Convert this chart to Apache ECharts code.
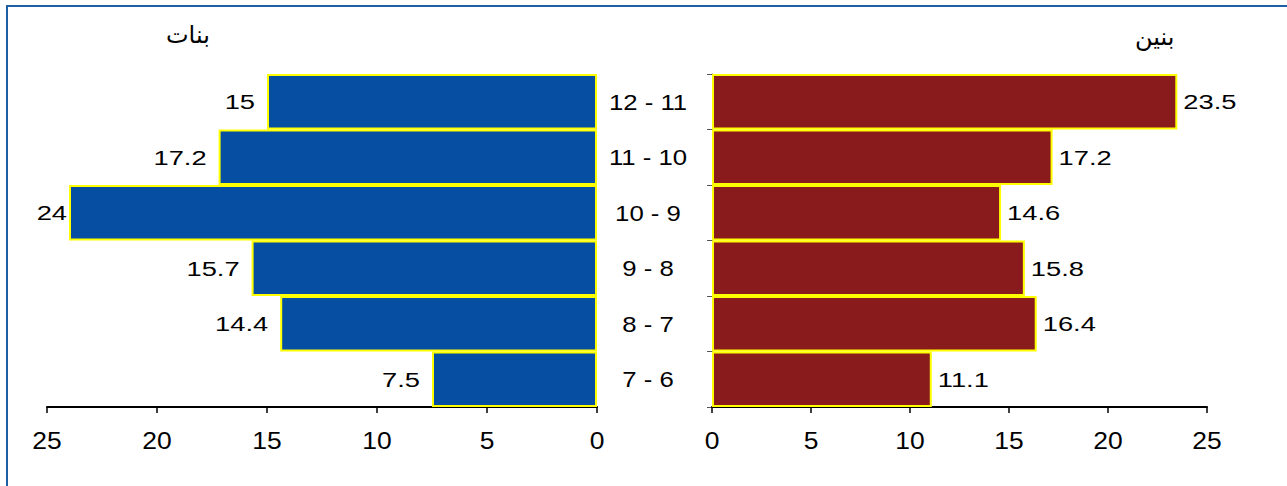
<!DOCTYPE html>
<html>
<head>
<meta charset="utf-8">
<style>html,body{margin:0;padding:0;background:#fff;}#c{width:1287px;height:486px;}</style>
<script src="https://cdn.jsdelivr.net/npm/echarts@6/dist/echarts.min.js"></script>
</head>
<body>
<div id="c"></div>
<script>
const categories = ["7 - 6", "8 - 7", "9 - 8", "10 - 9", "11 - 10", "12 - 11"];
const girls = [7.5, 14.4, 15.7, 24, 17.2, 15];
const boys = [11.1, 16.4, 15.8, 14.6, 17.2, 23.5];
const xTicks = [0, 5, 10, 15, 20, 25];
const girlsTitle = "بنات";
const boysTitle = "بنين";

const chart = echarts.init(document.getElementById('c'), null, {renderer: 'svg'});
const FF = '"Liberation Sans", Arial, sans-serif';
const axisFont = {fontFamily: FF, fontSize: 23, color: '#000'};
const xAxisCommon = {
  type: 'value', min: 0, max: 25, interval: 5,
  splitLine: {show: false},
  axisLine: {show: true, lineStyle: {color: '#000', width: 2}},
  axisTick: {show: true, length: 6, lineStyle: {color: '#000', width: 1.5}},
  axisLabel: Object.assign({margin: 23}, axisFont)
};
// the longest girls' bar has its label squeezed against the bar, as in the reference
const girlsData = girls.map(function (v) {
  return v >= 24 ? {value: v, label: {distance: 2}} : v;
});
chart.setOption({
  animation: false,
  backgroundColor: '#fff',
  graphic: [
    {type: 'rect', shape: {x: 7, y: 6, width: 1300, height: 500}, style: {fill: 'none', stroke: '#1E5FA3', lineWidth: 2}},
    {type: 'text', left: 166, top: 23, style: {text: girlsTitle, font: '24px "DejaVu Sans", sans-serif', fill: '#000'}},
    {type: 'text', left: 1135, top: 25, style: {text: boysTitle, font: '24px "DejaVu Sans", sans-serif', fill: '#000'}}
  ],
  grid: [
    {left: 47, right: 690, top: 74, bottom: 79},
    {left: 712, right: 80, top: 74, bottom: 79}
  ],
  xAxis: [
    Object.assign({gridIndex: 0, inverse: true}, xAxisCommon),
    Object.assign({gridIndex: 1}, xAxisCommon)
  ],
  yAxis: [
    {gridIndex: 0, type: 'category', data: categories, position: 'right', show: false},
    {gridIndex: 1, type: 'category', data: categories, position: 'left',
     axisLine: {show: true, lineStyle: {color: '#555', width: 1}},
     axisTick: {show: true, length: 5, lineStyle: {color: '#555'}},
     axisLabel: Object.assign({margin: 64, align: 'center'}, axisFont, {fontSize: 22})}
  ],
  series: [
    {type: 'bar', xAxisIndex: 0, yAxisIndex: 0, data: girlsData, barCategoryGap: '0%',
     itemStyle: {color: '#054EA1', borderColor: '#FFFF00', borderWidth: 2},
     label: {show: true, position: 'left', distance: 12, fontFamily: FF, fontSize: 21, color: '#000'}},
    {type: 'bar', xAxisIndex: 1, yAxisIndex: 1, data: boys, barCategoryGap: '0%',
     itemStyle: {color: '#891B1D', borderColor: '#FFFF00', borderWidth: 2},
     label: {show: true, position: 'right', distance: 6, fontFamily: FF, fontSize: 21, color: '#000'}}
  ]
});
// the reference uses a horizontally stretched Helvetica: widen numeric text around its own anchor
const stretch = {'21px': 1.3, '22px': 1.17, '23px': 1.15};
document.querySelectorAll('#c svg text').forEach(function (t) {
  if (!/^[0-9 .\-]+$/.test(t.textContent)) return;
  const s = stretch[getComputedStyle(t).fontSize];
  if (!s) return;
  const x = parseFloat(t.getAttribute('x') || '0');
  const y = parseFloat(t.getAttribute('y') || '0');
  const tr = t.getAttribute('transform') || '';
  t.setAttribute('transform', (tr + ' translate(' + x + ' ' + y + ') scale(' + s + ' 1) translate(' + (-x) + ' ' + (-y) + ')').trim());
});
</script>
</body>
</html>
